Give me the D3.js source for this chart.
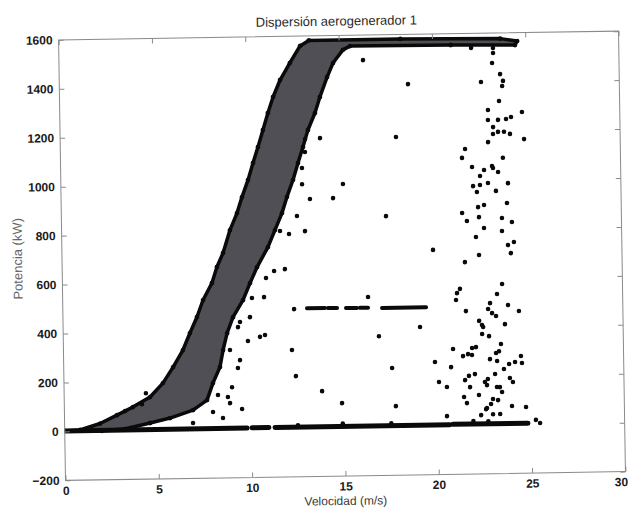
<!DOCTYPE html>
<html>
<head>
<meta charset="utf-8">
<script src="https://cdn.jsdelivr.net/npm/d3@7"></script>
<style>
  html, body { margin: 0; padding: 0; background: #ffffff; }
  svg { display: block; }
</style>
</head>
<body>
<svg id="chart" width="630" height="509"></svg>
<script>
// ---------------- data ----------------
const chartTitle = "Dispersión aerogenerador 1";
const xLabel = "Velocidad (m/s)";
const yLabel = "Potencia (kW)";
const xDomain = [0, 30];
const yDomain = [-200, 1600];
const xTicks = [0, 5, 10, 15, 20, 25, 30];
const yTicks = [-200, 0, 200, 400, 600, 800, 1000, 1200, 1400, 1600];

// upper/left edge of the dense power-curve band  [speed m/s, power kW]
const bandUpper = [
  [0, 2], [0.82, 5], [1.9, 30], [2.81, 63], [3.67, 95], [4.6, 135], [5.3, 191],
  [5.86, 256], [6.4, 325], [6.79, 394], [7.18, 459], [7.52, 528], [8.01, 597],
  [8.29, 662], [8.63, 719], [9.02, 812], [9.41, 881], [9.69, 946], [10.03, 1016],
  [10.31, 1085], [10.59, 1150], [10.87, 1219], [11.15, 1288], [11.44, 1353],
  [11.83, 1422], [12.37, 1491], [12.93, 1560], [13.4, 1582], [18.3, 1582],
  [23.65, 1577], [24.56, 1566]
];
// lower/right edge of the band
const bandLower = [
  [2.0, 0], [3.2, 6], [4.58, 29], [5.65, 48], [6.89, 79], [7.65, 119], [7.98, 188],
  [8.37, 253], [8.55, 322], [8.78, 391], [9.11, 456], [9.66, 525], [10.05, 594],
  [10.44, 659], [11.04, 740], [11.43, 809], [11.82, 878], [12.10, 944], [12.44, 1013],
  [12.72, 1082], [13.0, 1147], [13.28, 1216], [13.67, 1285], [13.95, 1350],
  [14.35, 1431], [14.68, 1488], [15.22, 1541], [15.6, 1556], [21.0, 1554], [24.44, 1550]
];

// runs of dots lying on (almost) zero power  [from speed, to speed, power]
const zeroRuns = [
  [0, 9.77, 2], [10.03, 10.94, 3], [11.27, 20.64, 3], [20.8, 24.82, 4]
];
// runs of dots at the ~490 kW curtailment level
const midRuns = [
  [13.08, 14.05, 488], [14.21, 14.69, 487], [15.17, 15.76, 486],
  [15.92, 16.35, 486], [17.1, 19.46, 484]
];

// isolated points  [speed m/s, power kW]
const outliers = [
  [16.29, 1498], [18.68, 1397], [22.09, 1541], [23.26, 1539], [23.26, 1519], [23.2, 1478],
  [22.59, 1401], [23.62, 1432], [23.77, 1404], [23.72, 1383], [23.54, 1322], [22.94, 1286],
  [24.76, 1276], [22.93, 1245], [23.47, 1245], [23.9, 1248], [24.17, 1256], [23.2, 1216],
  [23.19, 1188], [23.46, 1196], [23.78, 1196], [24.1, 1187], [24.85, 1165], [22.92, 1155],
  [13.12, 1179], [13.92, 1182], [17.99, 1182], [13.1, 1126], [21.68, 1128], [21.51, 1092],
  [23.7, 1090], [12.93, 1061], [22.04, 1054], [22.68, 1041], [23.11, 1057], [23.16, 1049],
  [23.43, 1032], [22.46, 1017], [12.92, 995], [15.11, 993], [22.08, 976], [22.45, 980],
  [22.88, 988], [23.95, 986], [22.28, 952], [23.3, 955], [13.33, 934], [14.57, 936],
  [23.88, 905], [22.33, 890], [22.65, 898], [21.47, 867], [17.39, 859], [22.37, 849],
  [23.6, 844], [21.72, 834], [24.13, 827], [22.63, 804], [23.59, 791], [13.04, 803],
  [22.19, 768], [23.9, 733], [24.22, 745], [19.88, 718], [21.58, 666], [22.34, 694],
  [24.05, 700], [23.55, 574], [23.27, 534], [21.29, 557], [21.13, 540], [21.07, 512],
  [23.85, 488], [16.36, 530], [22.89, 497], [22.78, 473], [22.99, 456], [23.2, 444],
  [24.43, 463], [21.59, 466], [19.12, 404], [22.29, 425], [22.44, 408], [22.5, 400],
  [23.67, 410], [16.91, 369], [22.44, 371], [22.81, 362], [20.87, 312], [23.44, 329],
  [22.1, 318], [21.89, 315], [21.4, 282], [21.67, 290], [21.88, 286], [23.17, 293],
  [23.33, 300], [24.5, 279], [22.84, 268], [23.22, 260], [19.89, 260], [24.18, 255],
  [23.86, 247], [24.55, 250], [20.75, 238], [17.59, 238], [23.58, 227], [21.7, 201],
  [22.02, 208], [23.1, 207], [21.49, 184], [22.55, 175], [22.71, 187], [22.66, 162],
  [23.89, 190], [24.05, 173], [20.09, 178], [21.75, 155], [23.19, 154], [23.35, 153],
  [20.51, 157], [23.46, 133], [13.82, 148], [22.22, 122], [21.42, 115], [22.97, 105],
  [23.24, 100], [14.88, 98], [21.57, 90], [22.86, 85], [17.76, 82], [23.98, 75],
  [24.73, 70], [22.59, 64], [22.64, 68], [22.96, 43], [23.34, 43], [22.32, 40],
  [20.49, 38], [25.25, 17], [25.47, 4],
  [11.35, 642], [11.93, 649], [10.91, 614], [10.79, 536], [10.14, 533], [12.39, 485],
  [10.02, 455], [9.48, 436], [9.37, 415], [10.81, 381], [10.54, 374], [9.89, 358],
  [12.24, 318], [9.45, 280], [9.33, 248], [8.92, 322], [12.43, 211], [9.0, 170],
  [8.77, 130], [8.24, 139], [8.88, 105], [9.52, 80], [7.96, 70], [8.49, 45], [6.88, 26],
  [4.38, 151], [4.16, 106], [3.25, 79], [12.62, 865], [12.18, 792], [11.7, 805],
  [14.9, 14], [17.5, 12], [21.9, 16], [22.7, 14], [12.5, 10]
];

// ---------------- layout ----------------
const W = 630, H = 509;
const plot = { left: 62, right: 622, top: 35.5, bottom: 476 };
const tilt = -0.9; // the source is a slightly rotated scan

const svg = d3.select("#chart");
const g = svg.append("g")
  .attr("transform", `rotate(${tilt}, ${(plot.left + plot.right) / 2}, ${(plot.top + plot.bottom) / 2})`);

const x = d3.scaleLinear().domain(xDomain).range([plot.left, plot.right]);
const y = d3.scaleLinear().domain(yDomain).range([plot.bottom, plot.top]);

const font = "'Liberation Sans', Arial, Helvetica, sans-serif";
const frameColor = "#8a8a8a";

// clip to the axes box
svg.append("defs").append("clipPath").attr("id", "clip")
  .append("rect").attr("x", plot.left).attr("y", plot.top - 3)
  .attr("width", plot.right - plot.left).attr("height", plot.bottom - plot.top + 3);

const data = g.append("g").attr("clip-path", "url(#clip)");

// dense band
const bandPoly = bandUpper.concat(bandLower.slice().reverse());
data.append("path")
  .attr("d", d3.line().x(d => x(d[0])).y(d => y(d[1])).curve(d3.curveLinearClosed)(bandPoly))
  .attr("fill", "#4f4f55")
  .attr("stroke", "#0a0a0a")
  .attr("stroke-width", 3.5)
  .attr("stroke-linejoin", "round");

// edge dots of the band
data.append("g").selectAll("circle")
  .data(bandUpper.concat(bandLower))
  .join("circle")
  .attr("cx", d => x(d[0])).attr("cy", d => y(d[1])).attr("r", 2.4)
  .attr("fill", "#0a0a0a");

// zero-power runs and curtailment runs
const runs = zeroRuns.concat(midRuns);
data.append("g").selectAll("line")
  .data(runs)
  .join("line")
  .attr("x1", d => x(d[0])).attr("x2", d => x(d[1]))
  .attr("y1", d => y(d[2])).attr("y2", d => y(d[2]))
  .attr("stroke", "#0a0a0a")
  .attr("stroke-width", d => d[2] < 100 ? 5 : 4)
  .attr("stroke-linecap", "round");

// isolated points
data.append("g").selectAll("circle")
  .data(outliers)
  .join("circle")
  .attr("cx", d => x(d[0])).attr("cy", d => y(d[1])).attr("r", 2.3)
  .attr("fill", "#0a0a0a");

// ---------------- axes frame (MATLAB style box, inward ticks) ----------------
const axes = g.append("g");
axes.append("rect")
  .attr("x", plot.left).attr("y", plot.top)
  .attr("width", plot.right - plot.left).attr("height", plot.bottom - plot.top)
  .attr("fill", "none").attr("stroke", frameColor).attr("stroke-width", 1);

const fmt = d3.format("d");
const bottomAxis = d3.axisBottom(x).tickValues(xTicks).tickSize(-5).tickPadding(6).tickFormat(fmt);
const leftAxis = d3.axisLeft(y).tickValues(yTicks).tickSize(-5).tickPadding(6).tickFormat(fmt);
const topAxis = d3.axisTop(x).tickValues(xTicks).tickSize(-5).tickFormat("");
const rightAxis = d3.axisRight(y).tickValues(yTicks).tickSize(-5).tickFormat("");

function styleAxis(sel) {
  sel.select(".domain").remove();
  sel.selectAll(".tick line").attr("stroke", frameColor);
  sel.selectAll(".tick text")
    .attr("font-family", font).attr("font-size", 12)
    .attr("font-weight", "bold")
    .attr("fill", "#1a1a1a");
}

const bottomG = axes.append("g").attr("transform", `translate(0,${plot.bottom})`).call(bottomAxis).call(styleAxis);
// keep the last label ("30") inside the picture; in the scan it sits right at the edge
bottomG.selectAll(".tick text").filter(d => d === xDomain[1]).attr("text-anchor", "end").attr("dx", 2);
axes.append("g").attr("transform", `translate(${plot.left},0)`).call(leftAxis).call(styleAxis);
axes.append("g").attr("transform", `translate(0,${plot.top})`).call(topAxis).call(styleAxis);
axes.append("g").attr("transform", `translate(${plot.right},0)`).call(rightAxis).call(styleAxis);

// ---------------- labels ----------------
g.append("text")
  .attr("x", (plot.left + plot.right) / 2 - 2).attr("y", 25.5)
  .attr("text-anchor", "middle")
  .attr("font-family", font).attr("font-size", 13)
  .attr("fill", "#2a2a2a")
  .text(chartTitle);

g.append("text")
  .attr("x", (plot.left + plot.right) / 2).attr("y", 505)
  .attr("text-anchor", "middle")
  .attr("font-family", font).attr("font-size", 12)
  .attr("fill", "#3a3a3a")
  .text(xLabel);

g.append("text")
  .attr("transform", `translate(22, ${(plot.top + plot.bottom) / 2 - 2}) rotate(-90)`)
  .attr("text-anchor", "middle")
  .attr("font-family", font).attr("font-size", 13)
  .attr("fill", "#666")
  .text(yLabel);
</script>
</body>
</html>
